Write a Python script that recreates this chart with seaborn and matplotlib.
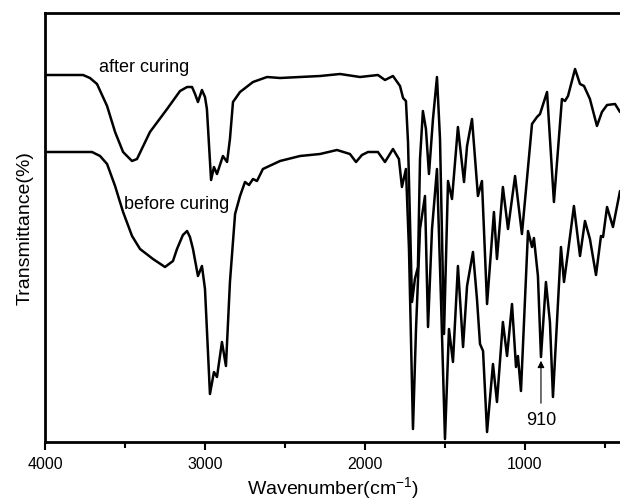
import numpy as np
import pandas as pd
import matplotlib
matplotlib.use("Agg")
import matplotlib.pyplot as plt
import seaborn as sns

# FTIR spectra (transmittance in arbitrary units)
wn_after = [4000, 3762, 3719, 3675, 3612, 3562, 3512, 3475, 3456, 3425, 3344, 3237, 3156,
            3112, 3081, 3062, 3044, 3019, 3000, 2988, 2962, 2944, 2925, 2888, 2862, 2844,
            2825, 2781, 2700, 2612, 2531, 2406, 2281, 2156, 2031, 1919, 1875, 1825, 1781,
            1762, 1744, 1731, 1706, 1688, 1669, 1656, 1638, 1619, 1600, 1575, 1550, 1531,
            1506, 1481, 1456, 1419, 1381, 1362, 1331, 1294, 1269, 1237, 1194, 1175, 1138,
            1106, 1062, 1019, 956, 925, 906, 862, 819, 769, 750, 731, 687, 656, 631, 594,
            550, 519, 487, 437, 406]
trans_after = [367, 367, 364, 358, 336, 310, 290, 284, 281, 283, 310, 333, 351,
               355, 355, 348, 340, 352, 345, 333, 262, 275, 268, 286, 280, 303,
               340, 350, 360, 365, 364, 365, 366, 368, 365, 367, 362, 366, 356,
               344, 341, 300, 140, 163, 175, 283, 331, 313, 268, 323, 365, 303,
               108, 261, 243, 315, 260, 296, 323, 246, 261, 138, 230, 183, 255,
               213, 266, 208, 318, 325, 328, 350, 240, 343, 341, 346, 373, 358, 356, 343,
               316, 330, 337, 338, 330]

wn_before = [4000, 3706, 3656, 3612, 3562, 3512, 3456, 3406, 3325, 3250, 3200, 3175, 3138,
             3112, 3094, 3075, 3044, 3019, 3000, 2969, 2944, 2925, 2894, 2869, 2844, 2812,
             2781, 2750, 2725, 2700, 2675, 2638, 2531, 2406, 2281, 2175, 2094, 2056, 2019,
             1981, 1919, 1875, 1825, 1788, 1769, 1744, 1725, 1700, 1681, 1656, 1625, 1606,
             1581, 1550, 1525, 1500, 1475, 1450, 1419, 1387, 1362, 1325, 1300, 1281, 1262,
             1237, 1200, 1175, 1138, 1112, 1081, 1056, 1044, 1025, 981, 956, 944, 919, 900,
             869, 844, 825, 775, 756, 731, 694, 656, 625, 594, 556, 525, 512, 487, 450, 406]
trans_before = [290, 290, 286, 278, 256, 230, 206, 193, 183, 175, 181, 193, 207,
                211, 205, 193, 166, 176, 153, 48, 70, 65, 100, 76, 160, 228,
                246, 260, 257, 263, 261, 273, 281, 286, 288, 292, 288, 280, 287,
                290, 290, 280, 293, 283, 255, 273, 193, 13, 113, 213, 246, 115,
                213, 273, 143, 3, 113, 80, 176, 95, 156, 190, 143, 98, 91,
                10, 78, 40, 120, 86, 138, 75, 86, 51, 211, 195, 204, 166, 85,
                160, 120, 45, 195, 160, 190, 236, 186, 221, 203, 167, 206, 205, 235, 215, 251]

df = pd.concat([
    pd.DataFrame({"wn": wn_after, "T": trans_after, "sample": "after curing"}),
    pd.DataFrame({"wn": wn_before, "T": trans_before, "sample": "before curing"}),
])

sns.set_style("ticks")
plt.rcParams["font.family"] = ["Liberation Sans", "DejaVu Sans"]
plt.rcParams["mathtext.default"] = "regular"
plt.rcParams.update({"text.color": "black", "axes.labelcolor": "black",
                     "axes.edgecolor": "black", "xtick.color": "black",
                     "ytick.color": "black"})

fig = plt.figure(figsize=(6.2, 5.02), dpi=100)
ax = fig.add_axes([45 / 620, 59 / 502, 575 / 620, 429 / 502])

sns.lineplot(data=df, x="wn", y="T", units="sample", estimator=None, sort=False,
             color="black", lw=1.8, ax=ax)
for line in ax.lines:
    line.set_solid_joinstyle("round")

ax.set_xlim(4000, 406)
ax.set_ylim(0, 429)
ax.set_xticks([4000, 3000, 2000, 1000])
ax.set_xticks([3500, 2500, 1500, 500], minor=True)
ax.set_yticks([])
ax.tick_params(axis="x", which="major", direction="out", length=6, width=1.5,
               labelsize=11.5, pad=4)
ax.tick_params(axis="x", which="minor", direction="out", length=4, width=1.5)

for side in ["left", "top", "bottom"]:
    ax.spines[side].set_linewidth(2)
ax.spines["right"].set_visible(False)

ax.set_xlabel("Wavenumber(cm$^{-1}$)", fontsize=14, labelpad=2)
ax.set_ylabel("Transmittance(%)", fontsize=14, labelpad=8)

ax.text(3381, 375, "after curing", fontsize=13, ha="center", va="center")
ax.text(3178, 238, "before curing", fontsize=13, ha="center", va="center")
ax.annotate("", xy=(900, 84), xytext=(900, 36),
            arrowprops=dict(arrowstyle="-|>", lw=0.8, color="black", mutation_scale=10))
ax.text(900, 22, "910", fontsize=13, ha="center", va="center")

fig.savefig("out.png", dpi=100)
